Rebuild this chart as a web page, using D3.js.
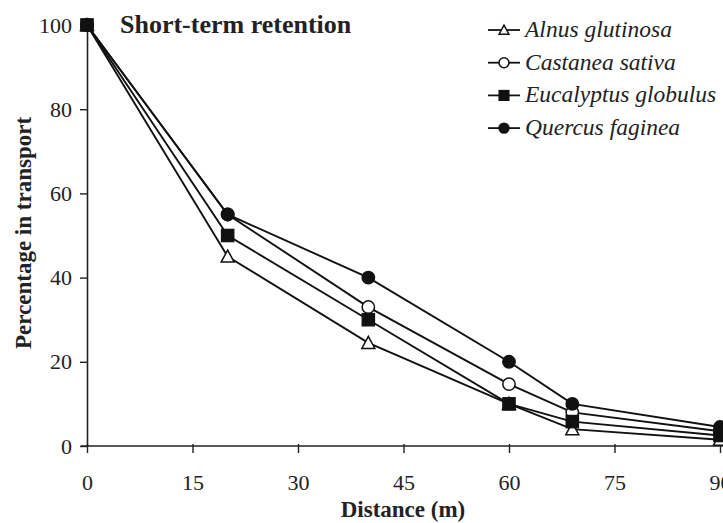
<!DOCTYPE html>
<html><head><meta charset="utf-8">
<script src="https://cdn.jsdelivr.net/npm/d3@7"></script>
<style>body{margin:0;background:#fff}svg{display:block}</style>
</head><body>
<svg id="c" width="723" height="523"></svg>
<script>
const distances = [0, 20, 40, 60, 69, 90];
const seriesNames = ["Alnus glutinosa", "Castanea sativa", "Eucalyptus globulus", "Quercus faginea"];
const alnus      = [100, 45, 24.5, 10, 4, 1.5];
const castanea   = [100, 55, 33, 14.7, 8, 3.5];
const eucalyptus = [100, 50, 30, 10, 5.8, 2.5];
const quercus    = [100, 55, 40, 20, 10, 4.5];
const xTicks = [0, 15, 30, 45, 60, 75, 90];
const yTicks = [0, 20, 40, 60, 80, 100];
const titleText = "Short-term retention";
const xLabel = "Distance (m)";
const yLabel = "Percentage in transport";

const series = [
  {name: seriesNames[0], values: alnus, sym: "triangle", fill: "#fff"},
  {name: seriesNames[1], values: castanea, sym: "circle", fill: "#fff"},
  {name: seriesNames[3], values: quercus, sym: "circle", fill: "#111"},
  {name: seriesNames[2], values: eucalyptus, sym: "square", fill: "#111"}
];
const legendOrder = [series[0], series[1], series[3], series[2]];

const svg = d3.select("#c");
const x = d3.scaleLinear().domain([0, 90]).range([87, 720]);
const y = d3.scaleLinear().domain([0, 100]).range([446, 25]);
const serif = "'Liberation Serif','Times New Roman',Times,serif";
const ink = "#222";

// axes
const yAxis = svg.append("g").attr("transform", `translate(${x(0)},0)`)
  .call(d3.axisLeft(y).tickValues(yTicks).tickSize(7).tickPadding(8).tickSizeOuter(0));
const xAxis = svg.append("g").attr("transform", `translate(0,${y(0)})`)
  .call(d3.axisBottom(x).tickValues(xTicks).tickSize(7).tickPadding(21).tickSizeOuter(0));
[xAxis, yAxis].forEach(g => {
  g.attr("font-family", null).attr("font-size", null);
  g.select(".domain").attr("stroke", ink).attr("stroke-width", 1.6);
  g.selectAll(".tick line").attr("stroke", ink).attr("stroke-width", 1.4);
  g.selectAll(".tick text").attr("fill", ink).style("font-family", serif).style("font-size", "22px");
});
xAxis.select(".domain").attr("d", `M${x(0)-6},0H723`);
yAxis.selectAll(".tick line").attr("x1", -7).attr("x2", 0);
xAxis.selectAll(".tick line").attr("y1", -2);

// lines
const line = d3.line().x((d, i) => x(distances[i])).y(d => y(d));
series.forEach(s => {
  svg.append("path").datum(s.values).attr("d", line)
    .attr("fill", "none").attr("stroke", "#111").attr("stroke-width", 1.9);
});

function marker(g, sym, fill, cx, cy, scale) {
  const k = scale || 1;
  if (sym === "circle") {
    g.append("circle").attr("cx", cx).attr("cy", cy).attr("r", 6.2 * k)
      .attr("fill", fill).attr("stroke", "#111").attr("stroke-width", 1.5);
  } else if (sym === "square") {
    g.append("rect").attr("x", cx - 6.2 * k).attr("y", cy - 6.2 * k).attr("width", 12.4 * k).attr("height", 12.4 * k)
      .attr("fill", fill).attr("stroke", "#111").attr("stroke-width", 1.2);
  } else {
    const h = 6.5 * k;
    g.append("path").attr("d", `M${cx},${cy - h}L${cx + h},${cy + h * 0.85}L${cx - h},${cy + h * 0.85}Z`)
      .attr("fill", fill).attr("stroke", "#111").attr("stroke-width", 1.5);
  }
}
series.forEach(s => {
  const g = svg.append("g");
  s.values.forEach((v, i) => marker(g, s.sym, s.fill, x(distances[i]), y(v)));
});

// title
svg.append("text").attr("x", 120).attr("y", 33).text(titleText)
  .style("font-family", serif).style("font-weight", "bold").style("font-size", "26px").attr("fill", ink);

// axis labels
svg.append("text").attr("x", 403).attr("y", 517).attr("text-anchor", "middle").text(xLabel)
  .style("font-family", serif).style("font-weight", "bold").style("font-size", "23px").attr("fill", ink);
svg.append("text").attr("transform", "translate(31,233) rotate(-90)").attr("text-anchor", "middle").text(yLabel)
  .style("font-family", serif).style("font-weight", "bold").style("font-size", "23px").attr("fill", ink);

// legend
const lg = svg.append("g");
legendOrder.forEach((s, i) => {
  const cy = 30 + i * 32.7;
  lg.append("line").attr("x1", 488).attr("x2", 520).attr("y1", cy).attr("y2", cy)
    .attr("stroke", "#111").attr("stroke-width", 1.8);
  marker(lg, s.sym, s.fill, 504, cy, s.sym === "triangle" ? 0.75 : 0.8);
  lg.append("text").attr("x", 525).attr("y", cy + 7).text(s.name)
    .style("font-family", serif).style("font-style", "italic").style("font-size", "23.5px").attr("fill", ink);
});
</script>
</body></html>
